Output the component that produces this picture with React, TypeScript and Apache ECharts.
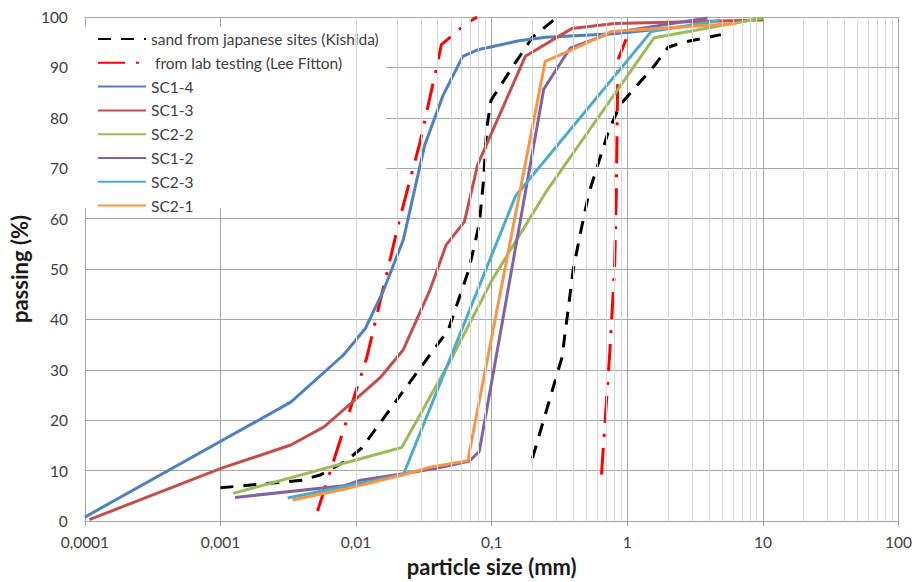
import React, { useEffect, useRef } from "react";
import * as echarts from "echarts";

// ---- data (particle size in mm, percent passing) ----
const kishidaFine = [[0.001, 6.6], [0.004, 8.1], [0.0055, 9.2], [0.0085, 12], [0.011, 14.5], [0.048, 38], [0.068, 50], [0.081, 59], [0.087, 67.5], [0.092, 78], [0.099, 83.5], [0.15, 91], [0.2, 96], [0.29, 99.5]];
const kishidaCoarse = [[0.2, 12.5], [0.33, 32.5], [0.4, 50], [0.45, 57], [0.52, 65], [0.72, 77], [0.88, 82.5], [1.6, 90.5], [2.0, 94], [2.6, 95], [4.9, 96.5]];
const fittonFine = [[0.0052, 2], [0.012, 32.5], [0.0168, 49], [0.021, 60], [0.0295, 75], [0.035, 84], [0.04, 91], [0.0425, 94.5], [0.065, 98.7], [0.078, 100]];
const fittonCoarse = [[0.645, 9.2], [0.741, 33], [0.806, 50.3], [0.83, 65], [0.843, 80.5], [0.853, 91.5], [0.98, 95.6]];
const sc14 = [[0.0001, 0.8], [0.0033, 23.6], [0.0081, 33], [0.0117, 38.2], [0.0159, 45.7], [0.0223, 55.8], [0.032, 74.5], [0.0437, 84.4], [0.0612, 92.2], [0.0788, 93.5], [0.1, 94.1], [0.159, 95.3], [0.25, 96], [0.8, 96.7], [4, 98.6]];
const sc13 = [[0.000108, 0.3], [0.00102, 10.5], [0.0033, 15.1], [0.0058, 18.7], [0.0093, 23.5], [0.0151, 28.5], [0.0223, 34], [0.0349, 45.7], [0.0462, 54.8], [0.063, 59.4], [0.0788, 70.7], [0.177, 92.2], [0.389, 97.7], [0.81, 98.7], [10, 99.4]];
const sc22 = [[0.00124, 5.5], [0.0217, 14.6], [0.05, 32], [0.1, 47.7], [0.25, 65.2], [1.58, 95.9], [10, 99.8]];
const sc12 = [[0.00128, 4.7], [0.0081, 7], [0.0108, 8.1], [0.0223, 9.4], [0.039, 10.5], [0.0547, 11.3], [0.0685, 11.9], [0.081, 13.8], [0.242, 85.7], [0.378, 93.8], [0.75, 96.8], [3.9, 99.8]];
const sc23 = [[0.00313, 4.6], [0.0223, 9.2], [0.15, 64.5], [1.5, 97.1], [4.75, 99.3]];
const sc21 = [[0.0034, 4.2], [0.0081, 6.3], [0.0223, 9.2], [0.035, 10.7], [0.0666, 12], [0.248, 91.2], [0.389, 93.5], [0.76, 97.1], [6.4, 98.7]];

const NAME_KISHIDA = "sand from japanese sites (Kishida)";
const NAME_FITTON = " from lab testing (Lee Fitton)";
const legendNames = [NAME_KISHIDA, NAME_FITTON, "SC1-4", "SC1-3", "SC2-2", "SC1-2", "SC2-3", "SC2-1"];

// axis ticks
const xDecades = [0.0001, 0.001, 0.01, 0.1, 1, 10, 100];
const minorSteps = [2, 3, 4, 5, 6, 7, 8, 9];

const FONT = "Lato, 'Liberation Sans', sans-serif";

export default function App() {
  const ref = useRef<HTMLDivElement>(null);

  useEffect(() => {
    if (!ref.current) return;
    document.body.style.margin = "0";
    const chart = echarts.init(ref.current, undefined, { renderer: "svg" });

    const minorValues: number[] = [];
    xDecades.slice(0, -1).forEach((d) =>
      minorSteps.forEach((s) => minorValues.push(Number((d * s).toPrecision(6))))
    );

    const line = (name: string, data: number[][], color: string, type: any = "solid") => ({
      name,
      type: "line",
      data,
      symbol: "circle",
      showSymbol: false,
      silent: true,
      z: 3,
      lineStyle: { color, width: 3, type },
      itemStyle: { color },
      emphasis: { disabled: true },
    });

    const dash = [13, 10];
    const dashDot = [27, 11, 3, 11];

    chart.setOption({
      animation: false,
      grid: { left: 79, right: 15, top: 17, bottom: 53, containLabel: false },
      xAxis: {
        type: "log",
        logBase: 10,
        min: 0.0001,
        max: 100,
        splitNumber: 6,
        name: "particle size (mm)",
        nameLocation: "middle",
        nameGap: 32,
        nameTextStyle: { fontFamily: FONT, fontWeight: "bold", fontSize: 22, color: "#1a1a1a" },
        axisLine: { show: true, lineStyle: { color: "#A6A6A6", width: 1 } },
        axisTick: { show: true, length: 5, lineStyle: { color: "#A6A6A6" } },
        axisLabel: {
          fontFamily: FONT,
          fontSize: 15.5,
          color: "#404040",
          margin: 13,
          formatter: (v: number) => String(Number(v.toPrecision(6))).replace(".", ","),
        },
        splitLine: { show: true, lineStyle: { color: "#A6A6A6", width: 1 } },
      },
      yAxis: {
        type: "value",
        min: 0,
        max: 100,
        interval: 10,
        name: "passing (%)",
        nameLocation: "middle",
        nameGap: 45,
        nameTextStyle: { fontFamily: FONT, fontWeight: "bold", fontSize: 22, color: "#1a1a1a" },
        axisLine: { show: true, lineStyle: { color: "#A6A6A6", width: 1 } },
        axisTick: { show: false },
        axisLabel: { fontFamily: FONT, fontSize: 15.5, color: "#404040", margin: 17 },
        splitLine: { show: true, lineStyle: { color: "#A6A6A6", width: 1 } },
      },
      legend: {
        orient: "vertical",
        left: 97,
        top: 31,
        itemWidth: 48,
        itemHeight: 14,
        itemGap: 7.8,
        padding: 0,
        data: legendNames,
        selectedMode: false,
        itemStyle: { opacity: 0 },
        textStyle: { fontFamily: FONT, fontSize: 15.5, color: "#404040" },
        z: 5,
      },
      graphic: [
        {
          type: "rect",
          z: 2,
          silent: true,
          shape: { x: 80, y: 27, width: 306, height: 181 },
          style: { fill: "#ffffff" },
        },
      ],
      series: [
        {
          name: "__minor",
          type: "line",
          data: [],
          z: 1,
          silent: true,
          markLine: {
            silent: true,
            symbol: ["none", "none"],
            label: { show: false },
            emphasis: { disabled: true },
            lineStyle: { color: "#D9D9D9", width: 1, type: "solid" },
            data: minorValues.map((v) => ({ xAxis: v })),
          },
        },
        line(NAME_KISHIDA, kishidaFine, "#000000", dash),
        line(NAME_KISHIDA, kishidaCoarse, "#000000", dash),
        line(NAME_FITTON, fittonFine, "#FF0000", dashDot),
        line(NAME_FITTON, fittonCoarse, "#FF0000", dashDot),
        line("SC1-4", sc14, "#4F81BD"),
        line("SC1-3", sc13, "#C0504D"),
        line("SC2-2", sc22, "#9BBB59"),
        line("SC1-2", sc12, "#8064A2"),
        line("SC2-3", sc23, "#4BACC6"),
        line("SC2-1", sc21, "#F79646"),
      ],
    });

    return () => chart.dispose();
  }, []);

  return <div ref={ref} style={{ width: 915, height: 582, position: "absolute", left: 0, top: 0 }} />;
}
